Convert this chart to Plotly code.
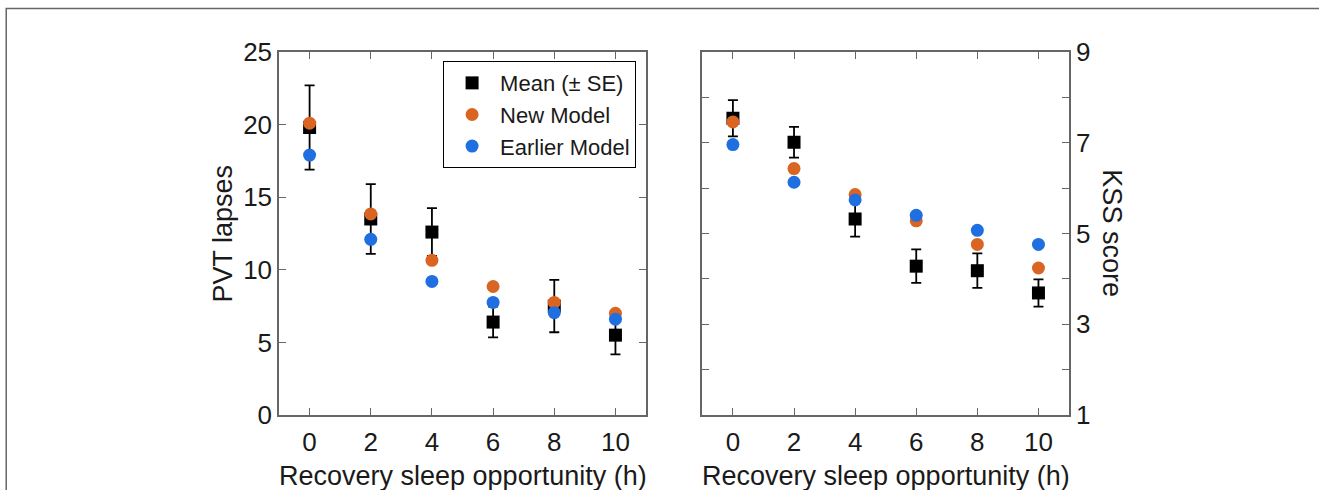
import plotly.graph_objects as go

# ---- data ----
hours = [0, 2, 4, 6, 8, 10]

pvt_mean = [19.8, 13.5, 12.6, 6.4, 7.5, 5.5]
pvt_se = [2.9, 2.4, 1.65, 1.06, 1.8, 1.33]
pvt_new = [20.1, 13.85, 10.65, 8.85, 7.75, 7.0]
pvt_earlier = [17.9, 12.1, 9.2, 7.75, 7.05, 6.6]

kss_mean = [7.54, 7.01, 5.32, 4.28, 4.18, 3.69]
kss_se = [0.40, 0.34, 0.39, 0.37, 0.38, 0.30]
kss_new = [7.46, 6.43, 5.86, 5.28, 4.76, 4.24]
kss_earlier = [6.96, 6.13, 5.74, 5.40, 5.07, 4.76]

pvt_ticks = [0, 5, 10, 15, 20, 25]
kss_tickvals = [1, 2, 3, 4, 5, 6, 7, 8, 9]
kss_ticktext = ["1", "", "3", "", "5", "", "7", "", "9"]
x_ticks = [0, 2, 4, 6, 8, 10]

legend_names = ["Mean (\u00b1 SE)", "New Model", "Earlier Model"]
x_title = "Recovery sleep opportunity (h)"
y1_title = "PVT lapses"
y2_title = "KSS score"

ORANGE = "#DA6422"
BLUE = "#1F6FE0"
AXC = "#666666"
TXT = "#1a1a1a"
FONT = "Liberation Sans, Arial, sans-serif"

fig = go.Figure()

def add_panel(mean, se, new, earlier, xa, ya, show):
    fig.add_trace(go.Scatter(
        x=hours, y=mean, mode="markers", name=legend_names[0],
        marker=dict(symbol="square", size=13, color="black"),
        error_y=dict(type="data", array=se, color="black", thickness=1.8, width=5),
        xaxis=xa, yaxis=ya, showlegend=show))
    fig.add_trace(go.Scatter(
        x=hours, y=new, mode="markers", name=legend_names[1],
        marker=dict(symbol="circle", size=13, color=ORANGE),
        xaxis=xa, yaxis=ya, showlegend=show))
    fig.add_trace(go.Scatter(
        x=hours, y=earlier, mode="markers", name=legend_names[2],
        marker=dict(symbol="circle", size=13, color=BLUE),
        xaxis=xa, yaxis=ya, showlegend=show))

add_panel(pvt_mean, pvt_se, pvt_new, pvt_earlier, "x", "y", True)
add_panel(kss_mean, kss_se, kss_new, kss_earlier, "x2", "y2", False)

axis_common = dict(
    showline=True, linecolor=AXC, linewidth=1.5, mirror="ticks",
    ticks="inside", ticklen=7, tickwidth=1.2, tickcolor=AXC,
    showgrid=False, zeroline=False,
    tickfont=dict(family=FONT, size=26, color=TXT),
)

fig.update_layout(
    width=1319, height=490,
    margin=dict(l=279, r=250, t=52, b=75),
    paper_bgcolor="white", plot_bgcolor="white",
    font=dict(family=FONT, color=TXT),
    xaxis=dict(domain=[0, 0.4646], range=[-1, 11], tickvals=x_ticks,
               ticklabelstandoff=3, **axis_common),
    xaxis2=dict(domain=[0.5359, 1], range=[-1, 11], tickvals=x_ticks,
                ticklabelstandoff=3, anchor="y2", **axis_common),
    yaxis=dict(range=[0, 25], tickvals=pvt_ticks, ticklabelstandoff=0,
               anchor="x", **axis_common),
    yaxis2=dict(range=[1, 9], tickvals=kss_tickvals, ticktext=kss_ticktext,
                side="right", anchor="x2", ticklabelstandoff=0, **axis_common),
    legend=dict(x=0.2077, y=0.975, xanchor="left", yanchor="top",
                bordercolor="black", borderwidth=1, bgcolor="white",
                font=dict(family=FONT, size=22, color=TXT),
                itemwidth=46, tracegroupgap=0),
    showlegend=True,
)

ann_font = dict(family=FONT, size=27, color=TXT)
fig.add_annotation(text=x_title, x=0.2323, y=-0.168, xref="paper", yref="paper",
                   showarrow=False, font=ann_font, xanchor="center", yanchor="middle")
fig.add_annotation(text=x_title, x=0.768, y=-0.168, xref="paper", yref="paper",
                   showarrow=False, font=ann_font, xanchor="center", yanchor="middle")
fig.add_annotation(text=y1_title, x=-0.0709, y=0.5, xref="paper", yref="paper",
                   showarrow=False, font=ann_font, textangle=-90,
                   xanchor="center", yanchor="middle")
fig.add_annotation(text=y2_title, x=1.0546, y=0.5, xref="paper", yref="paper",
                   showarrow=False, font=ann_font, textangle=90,
                   xanchor="center", yanchor="middle")

# outer frame (top and left edges)
fig.add_shape(type="path", xref="paper", yref="paper",
              path="M -0.3453,-0.25 L -0.3453,1.1198 L 1.33,1.1198",
              line=dict(color="#666666", width=1.5))

fig.write_html("out.html",
               config={"displayModeBar": False},
               post_script="document.body.style.margin='0';document.body.style.overflow='hidden';")
